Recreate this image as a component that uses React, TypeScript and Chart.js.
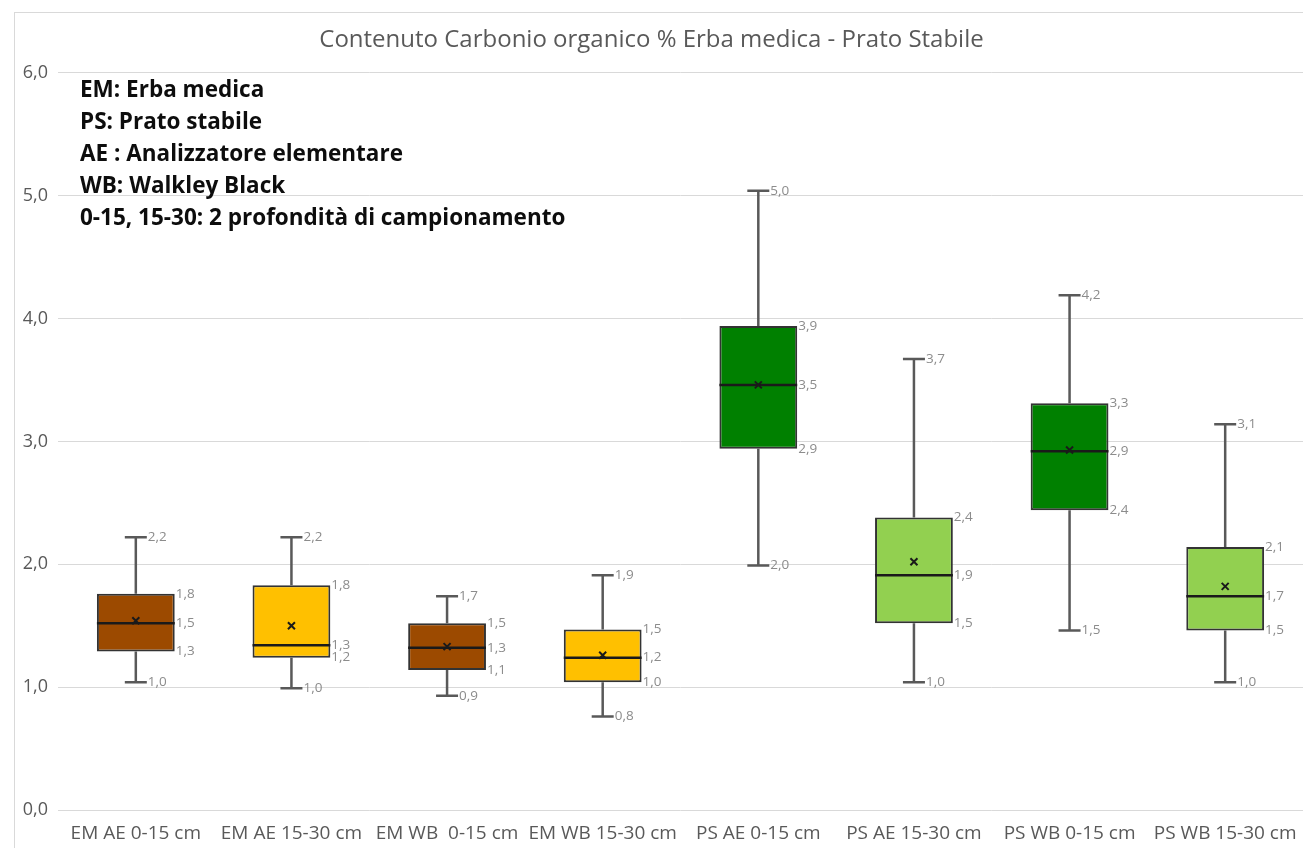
import React, { useEffect, useRef } from "react";
import { Chart, registerables } from "chart.js";

Chart.register(...registerables);

const categories = [
  "EM AE 0-15 cm",
  "EM AE 15-30 cm",
  "EM WB  0-15 cm",
  "EM WB 15-30 cm",
  "PS AE 0-15 cm",
  "PS AE 15-30 cm",
  "PS WB 0-15 cm",
  "PS WB 15-30 cm",
];
const mins = [1.04, 0.99, 0.93, 0.76, 1.99, 1.04, 1.46, 1.04];
const q1s = [1.29, 1.24, 1.14, 1.04, 2.94, 1.52, 2.44, 1.46];
const medians = [1.52, 1.34, 1.32, 1.24, 3.46, 1.91, 2.92, 1.74];
const q3s = [1.76, 1.83, 1.52, 1.47, 3.94, 2.38, 3.31, 2.14];
const maxs = [2.22, 2.22, 1.74, 1.91, 5.04, 3.67, 4.19, 3.14];
const means = [1.54, 1.5, 1.33, 1.26, 3.46, 2.02, 2.93, 1.82];
const boxColors = ["#9C4A00", "#FFC000", "#9C4A00", "#FFC000", "#008000", "#92D050", "#008000", "#92D050"];
const yTicks = [0, 1, 2, 3, 4, 5, 6];
const chartTitle = "Contenuto Carbonio organico % Erba medica - Prato Stabile";
const notes = [
  "EM: Erba medica",
  "PS: Prato stabile",
  "AE : Analizzatore elementare",
  "WB: Walkley Black",
  "0-15, 15-30: 2 profondità di campionamento",
];

const FONT = "'Open Sans', Lato, sans-serif";
const fmt = (v: number) => v.toFixed(1).replace(".", ",");

const framePlugin = {
  id: "frame",
  beforeDraw(chart: any) {
    const ctx = chart.ctx;
    ctx.save();
    ctx.fillStyle = "#ffffff";
    ctx.fillRect(0, 0, chart.width, chart.height);
    ctx.strokeStyle = "#D9D9D9";
    ctx.lineWidth = 1;
    ctx.strokeRect(14.5, 12.5, chart.width + 20, chart.height + 20);
    ctx.restore();
  },
};

const boxPlugin = {
  id: "boxplot",
  beforeDatasetsDraw(chart: any) {
    const ctx = chart.ctx;
    const y = chart.scales.y;
    const meta = chart.getDatasetMeta(0);
    ctx.save();
    ctx.strokeStyle = "#595959";
    ctx.lineWidth = 2.5;
    meta.data.forEach((bar: any, i: number) => {
      const x = bar.x;
      const cap = 11;
      const yMax = y.getPixelForValue(maxs[i]);
      const yMin = y.getPixelForValue(mins[i]);
      ctx.beginPath();
      ctx.moveTo(x, yMax);
      ctx.lineTo(x, y.getPixelForValue(q3s[i]));
      ctx.moveTo(x, y.getPixelForValue(q1s[i]));
      ctx.lineTo(x, yMin);
      ctx.moveTo(x - cap, yMax);
      ctx.lineTo(x + cap, yMax);
      ctx.moveTo(x - cap, yMin);
      ctx.lineTo(x + cap, yMin);
      ctx.stroke();
    });
    ctx.restore();
  },
  afterDatasetsDraw(chart: any) {
    const ctx = chart.ctx;
    const y = chart.scales.y;
    const meta = chart.getDatasetMeta(0);
    ctx.save();
    meta.data.forEach((bar: any, i: number) => {
      const x = bar.x;
      const half = bar.width / 2;
      const cap = 11;
      const yMed = y.getPixelForValue(medians[i]);
      ctx.strokeStyle = "#1a1a1a";
      ctx.lineWidth = 2.5;
      ctx.beginPath();
      ctx.moveTo(x - half, yMed);
      ctx.lineTo(x + half, yMed);
      ctx.stroke();
      const yMean = y.getPixelForValue(means[i]);
      const m = 3.5;
      ctx.lineWidth = 2;
      ctx.beginPath();
      ctx.moveTo(x - m, yMean - m);
      ctx.lineTo(x + m, yMean + m);
      ctx.moveTo(x + m, yMean - m);
      ctx.lineTo(x - m, yMean + m);
      ctx.stroke();
      ctx.fillStyle = "#8C8C8C";
      ctx.font = `13.5px ${FONT}`;
      ctx.textAlign = "left";
      ctx.textBaseline = "middle";
      ctx.fillText(fmt(maxs[i]), x + cap + 1, y.getPixelForValue(maxs[i]));
      ctx.fillText(fmt(mins[i]), x + cap + 1, y.getPixelForValue(mins[i]));
      ctx.fillText(fmt(q3s[i]), x + half + 1, y.getPixelForValue(q3s[i]));
      ctx.fillText(fmt(medians[i]), x + half + 1, yMed);
      ctx.fillText(fmt(q1s[i]), x + half + 1, y.getPixelForValue(q1s[i]));
    });
    ctx.restore();
  },
  afterDraw(chart: any) {
    const ctx = chart.ctx;
    const area = chart.chartArea;
    ctx.save();
    ctx.fillStyle = "#0d0d0d";
    ctx.font = `bold 22.5px ${FONT}`;
    ctx.textAlign = "left";
    ctx.textBaseline = "middle";
    notes.forEach((t, k) => {
      ctx.fillText(t, area.left + 22, area.top + 18 + k * 32);
    });
    ctx.restore();
  },
};

export default function App() {
  const ref = useRef<HTMLCanvasElement | null>(null);
  useEffect(() => {
    if (!ref.current) return;
    const chart = new Chart(ref.current, {
      type: "bar",
      data: {
        labels: categories,
        datasets: [
          {
            data: categories.map((_, i) => [q1s[i], q3s[i]]) as any,
            backgroundColor: boxColors,
            borderColor: "#333333",
            borderWidth: 2,
            borderSkipped: false,
            barPercentage: 0.5,
            categoryPercentage: 1,
          },
        ],
      },
      options: {
        animation: false,
        responsive: true,
        maintainAspectRatio: false,
        layout: { padding: { left: 0, right: 0, top: 0, bottom: 0 } },
        plugins: {
          legend: { display: false },
          tooltip: { enabled: false },
          title: {
            display: true,
            text: chartTitle,
            color: "#595959",
            font: { family: FONT, size: 24, weight: "normal" },
            padding: { top: 26, bottom: 18 },
          },
        },
        scales: {
          x: {
            grid: { display: false, drawTicks: false },
            border: { display: false },
            ticks: {
              color: "#595959",
              font: { family: FONT, size: 19 },
              padding: 12,
              maxRotation: 0,
              autoSkip: false,
            },
            afterFit(scale: any) {
              scale.height = 38;
              scale.paddingLeft = 0;
              scale.paddingRight = 0;
            },
          },
          y: {
            min: 0,
            max: 6,
            afterBuildTicks(scale: any) {
              scale.ticks = yTicks.map((v) => ({ value: v }));
            },
            grid: { color: "#D9D9D9", lineWidth: 1, drawTicks: false },
            border: { display: false },
            ticks: {
              color: "#595959",
              font: { family: FONT, size: 18 },
              padding: 10,
              callback: (v: any) => fmt(Number(v)),
            },
            afterFit(scale: any) {
              scale.width = 58;
            },
          },
        },
      },
      plugins: [framePlugin, boxPlugin],
    });
    return () => chart.destroy();
  }, []);
  return (
    <div style={{ position: "fixed", left: 0, top: 0, width: 1303, height: 848, background: "#fff" }}>
      <canvas ref={ref} />
    </div>
  );
}
